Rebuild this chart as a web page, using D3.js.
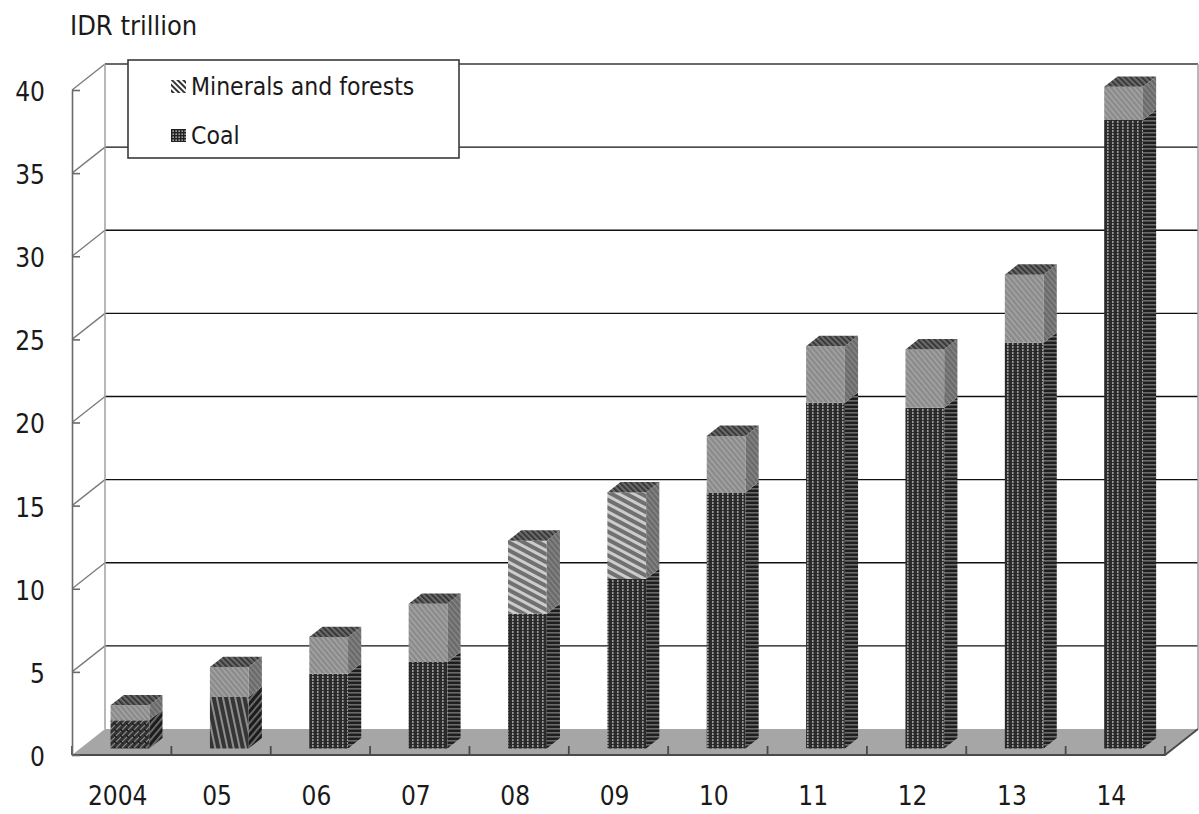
<!DOCTYPE html>
<html>
<head>
<meta charset="utf-8">
<script src="https://cdn.jsdelivr.net/npm/d3@7"></script>
<style>
  html, body { margin: 0; padding: 0; background: #fff; }
  svg { display: block; }
  text { font-family: "DejaVu Sans Condensed", "DejaVu Sans", Verdana, sans-serif; fill: #1a1a1a; }
</style>
</head>
<body>
<svg id="chart" width="1199" height="814"></svg>
<script>
// Tax revenue by year, IDR trillion
const categories = ["2004", "05", "06", "07", "08", "09", "10", "11", "12", "13", "14"];
const coal       = [1.7, 3.1, 4.5, 5.2, 8.1, 10.2, 15.4, 20.8, 20.5, 24.4, 37.8];
const minerals   = [0.9, 1.8, 2.2, 3.5, 4.4, 5.2, 3.4, 3.4, 3.5, 4.1, 2.0];
const seriesNames = ["Minerals and forests", "Coal"];
const yTicks = [0, 5, 10, 15, 20, 25, 30, 35, 40];
const unitLabel = "IDR trillion";

const FONT = "'DejaVu Sans Condensed', 'DejaVu Sans', sans-serif";
const svg = d3.select("#chart");

// front plane of the 3-D box and the depth vector (oblique projection)
const left = 72, right = 1165, floorY = 755, topY = 90;
const depth = { dx: 33, dy: -26 };
const barDepth = [0.25, 0.65];   // bars occupy this slice of the floor depth

const y = d3.scaleLinear().domain([0, 40]).range([floorY, topY]);
const xBar = d3.scaleBand().domain(categories).range([left, right])
  .paddingInner(0.61).paddingOuter(0.305);
const step = xBar.step();

const proj = (x, v, d) => [x + depth.dx * d, y(v) + depth.dy * d];
const poly = pts => "M" + pts.map(p => p.join(",")).join("L") + "Z";

// ---------- fill patterns ----------
const defs = svg.append("defs");
function stripePattern(id, size, base, stripe, sw, angle) {
  const p = defs.append("pattern").attr("id", id)
    .attr("patternUnits", "userSpaceOnUse")
    .attr("width", size).attr("height", size)
    .attr("patternTransform", `rotate(${angle})`);
  p.append("rect").attr("width", size).attr("height", size).attr("fill", base);
  p.append("rect").attr("x", 0).attr("y", 0).attr("width", sw).attr("height", size).attr("fill", stripe);
  return p;
}
// coal: vertical light threads on dark, crossed by dark horizontal threads
(function () {
  const p = defs.append("pattern").attr("id", "coalFront")
    .attr("patternUnits", "userSpaceOnUse").attr("width", 5).attr("height", 3);
  p.append("rect").attr("width", 5).attr("height", 3).attr("fill", "#2c2c2c");
  p.append("rect").attr("x", 2).attr("width", 1.6).attr("height", 3).attr("fill", "#9a9a9a");
  p.append("rect").attr("y", 0).attr("width", 5).attr("height", 0.9).attr("fill", "#262626");
})();
stripePattern("coalSide", 4, "#1e1e1e", "#6a6a6a", 1.6, 90);
(function () {
  const p = defs.append("pattern").attr("id", "coalWeave")
    .attr("patternUnits", "userSpaceOnUse").attr("width", 6).attr("height", 6);
  p.append("rect").attr("width", 6).attr("height", 6).attr("fill", "#333");
  p.append("path").attr("d", "M0,6L6,0M-1,1L1,-1M5,7L7,5").attr("stroke", "#8a8a8a").attr("stroke-width", 1.2);
  p.append("path").attr("d", "M0,3L3,6").attr("stroke", "#1a1a1a").attr("stroke-width", 1.2);
})();
stripePattern("coalDiag", 6, "#353535", "#8e8e8e", 2, -12);
stripePattern("coalDiagSide", 5, "#1c1c1c", "#707070", 1.8, 40);
stripePattern("minFront", 4, "#8a8a8a", "#a6a6a6", 1.5, -40);
stripePattern("minStripe", 7, "#707070", "#cccccc", 3, -62);
stripePattern("minSide", 4, "#6a6a6a", "#888888", 1.4, -40);
stripePattern("topFace", 4, "#6a6a6a", "#2e2e2e", 1.6, -45);

// per-bar fill choices
const coalFrontFill = i => i === 0 ? "url(#coalWeave)" : i === 1 ? "url(#coalDiag)" : "url(#coalFront)";
const coalSideFill  = i => i <= 1 ? "url(#coalDiagSide)" : "url(#coalSide)";
const minFrontFill  = i => (i === 4 || i === 5) ? "url(#minStripe)" : "url(#minFront)";

// ---------- walls and floor ----------
const box = svg.append("g");
const backLeft = left + depth.dx, backRight = right + depth.dx;

// floor
box.append("path")
  .attr("d", poly([[left, floorY], [right, floorY], [backRight, floorY + depth.dy], [backLeft, floorY + depth.dy]]))
  .attr("fill", "#a6a6a6").attr("stroke", "none");

// back wall gridlines
box.selectAll(".grid").data(yTicks.filter(t => t > 0)).join("line")
  .attr("x1", backLeft).attr("x2", backRight)
  .attr("y1", d => y(d) + depth.dy).attr("y2", d => y(d) + depth.dy)
  .attr("stroke", d => d === 40 ? "#6a6a6a" : "#111").attr("stroke-width", d => d === 40 ? 2 : 1.4);

// left wall gridlines
box.selectAll(".sideGrid").data(yTicks.filter(t => t > 0)).join("line")
  .attr("x1", left).attr("x2", backLeft)
  .attr("y1", d => y(d)).attr("y2", d => y(d) + depth.dy)
  .attr("stroke", "#7a7a7a").attr("stroke-width", 1.3);

// wall edges
box.append("line").attr("x1", backLeft).attr("x2", backLeft)
  .attr("y1", y(40) + depth.dy).attr("y2", floorY + depth.dy)
  .attr("stroke", "#a0a0a0").attr("stroke-width", 1.5);
box.append("line").attr("x1", backRight).attr("x2", backRight)
  .attr("y1", y(40) + depth.dy).attr("y2", floorY + depth.dy)
  .attr("stroke", "#a0a0a0").attr("stroke-width", 1.5);

// floor front and right edges
box.append("path")
  .attr("d", `M${left},${floorY}L${right},${floorY}L${backRight},${floorY + depth.dy}`)
  .attr("fill", "none").attr("stroke", "#4a4a4a").attr("stroke-width", 1.8);

// category separators along the floor front
box.selectAll(".sep").data(d3.range(categories.length + 1)).join("line")
  .attr("x1", k => left + step * k).attr("x2", k => left + step * k)
  .attr("y1", floorY - 9).attr("y2", floorY)
  .attr("stroke", "#4a4a4a").attr("stroke-width", 1.8);

// ---------- y axis ----------
const yAxis = svg.append("g").attr("transform", `translate(${left},0)`)
  .call(d3.axisLeft(y).tickValues(yTicks).tickSizeInner(-8).tickSizeOuter(0).tickPadding(27));
yAxis.select(".domain").attr("stroke", "#6a6a6a").attr("stroke-width", 1.6);
yAxis.selectAll(".tick line").attr("stroke", "#6a6a6a").attr("stroke-width", 1.6);
yAxis.selectAll("text").attr("font-size", 26).attr("dy", "0.4em")
  .style("font-family", FONT).attr("fill", "#1a1a1a");

// ---------- x axis labels ----------
const xAxis = svg.append("g").attr("transform", `translate(-4,${floorY})`)
  .call(d3.axisBottom(xBar).tickSize(0).tickPadding(32));
xAxis.select(".domain").remove();
xAxis.selectAll("text").attr("font-size", 26)
  .style("font-family", FONT).attr("fill", "#1a1a1a");

// ---------- bars ----------
const bw = xBar.bandwidth();
const [d0, d1] = barDepth;
const bars = svg.append("g");

categories.forEach((cat, i) => {
  const x0 = xBar(cat), x1 = x0 + bw;
  const segs = [
    { lo: 0, hi: coal[i], front: coalFrontFill(i), side: coalSideFill(i) },
    { lo: coal[i], hi: coal[i] + minerals[i], front: minFrontFill(i), side: "url(#minSide)" }
  ];
  const g = bars.append("g");
  segs.forEach(s => {
    // front face
    g.append("path")
      .attr("d", poly([proj(x0, s.lo, d0), proj(x1, s.lo, d0), proj(x1, s.hi, d0), proj(x0, s.hi, d0)]))
      .attr("fill", s.front);
    // right side face
    g.append("path")
      .attr("d", poly([proj(x1, s.lo, d0), proj(x1, s.lo, d1), proj(x1, s.hi, d1), proj(x1, s.hi, d0)]))
      .attr("fill", s.side);
  });
  const top = coal[i] + minerals[i];
  g.append("path")
    .attr("d", poly([proj(x0, top, d0), proj(x1, top, d0), proj(x1, top, d1), proj(x0, top, d1)]))
    .attr("fill", "url(#topFace)");
});

// ---------- unit label ----------
svg.append("text").attr("x", 70).attr("y", 35).attr("font-size", 27)
  .style("font-family", FONT).text(unitLabel);

// ---------- legend ----------
const lg = svg.append("g");
lg.append("rect").attr("x", 128).attr("y", 60).attr("width", 331).attr("height", 98)
  .attr("fill", "#fff").attr("stroke", "#3a3a3a").attr("stroke-width", 1.6);
(function () {
  const p = defs.append("pattern").attr("id", "legMin")
    .attr("patternUnits", "userSpaceOnUse").attr("width", 4).attr("height", 4)
    .attr("patternTransform", "rotate(-45)");
  p.append("rect").attr("width", 4).attr("height", 4).attr("fill", "#fff");
  p.append("rect").attr("width", 2).attr("height", 4).attr("fill", "#333");
  const q = defs.append("pattern").attr("id", "legCoal")
    .attr("patternUnits", "userSpaceOnUse").attr("width", 3).attr("height", 3);
  q.append("rect").attr("width", 3).attr("height", 3).attr("fill", "#222");
  q.append("rect").attr("x", 1.5).attr("y", 1.5).attr("width", 1.3).attr("height", 1.3).attr("fill", "#ddd");
})();
const legendFills = ["url(#legMin)", "url(#legCoal)"];
const legendRows = [95, 144];
seriesNames.forEach((name, k) => {
  const by = legendRows[k];
  lg.append("rect").attr("x", 171).attr("y", by - 15).attr("width", 15).attr("height", 13)
    .attr("fill", legendFills[k]);
  lg.append("text").attr("x", 191).attr("y", by).attr("font-size", 24.5)
    .style("font-family", FONT).text(name);
});
</script>
</body>
</html>
